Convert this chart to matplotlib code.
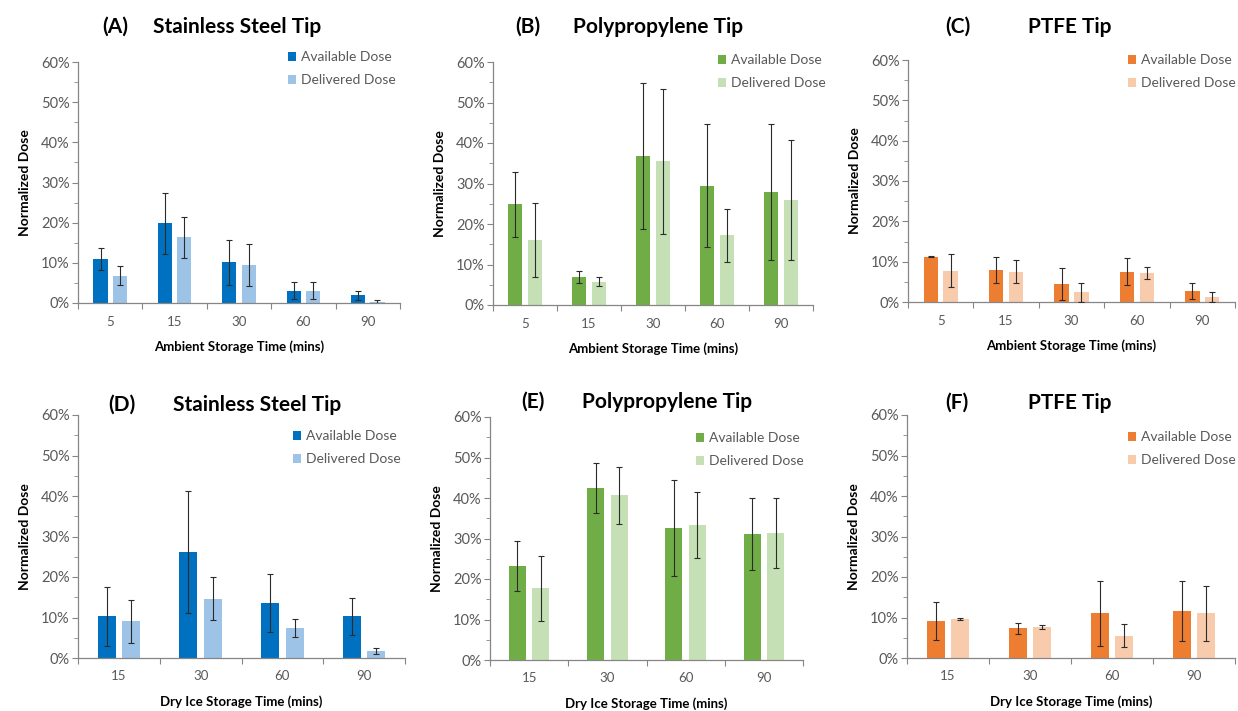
import matplotlib.pyplot as plt
import numpy as np
from matplotlib.ticker import MultipleLocator, PercentFormatter, FixedLocator, NullFormatter

plt.rcParams['font.family'] = ['Lato', 'DejaVu Sans']

# storage times
ambient_times = ['5', '15', '30', '60', '90']
dryice_times = ['15', '30', '60', '90']

# (A) stainless steel, ambient
ss_amb_avail = [10.9, 19.9, 10.1, 3.1, 1.9]
ss_amb_avail_err = [2.8, 7.6, 5.5, 2.1, 1.2]
ss_amb_deliv = [6.8, 16.4, 9.5, 3.1, 0.2]
ss_amb_deliv_err = [2.3, 5.1, 5.2, 2.1, 0.6]

# (B) polypropylene, ambient
pp_amb_avail = [24.9, 7.0, 36.8, 29.5, 28.0]
pp_amb_avail_err = [8.0, 1.5, 18.0, 15.3, 16.8]
pp_amb_deliv = [16.0, 5.8, 35.5, 17.2, 26.0]
pp_amb_deliv_err = [9.2, 1.0, 17.9, 6.5, 14.8]

# (C) PTFE, ambient
pt_amb_avail = [11.2, 7.9, 4.4, 7.5, 2.7]
pt_amb_avail_err = [0.1, 3.3, 4.0, 3.3, 2.0]
pt_amb_deliv = [7.7, 7.5, 2.4, 7.2, 1.2]
pt_amb_deliv_err = [4.1, 2.8, 2.3, 1.5, 1.2]

# (D) stainless steel, dry ice
ss_dry_avail = [10.3, 26.2, 13.6, 10.3]
ss_dry_avail_err = [7.3, 15.1, 7.2, 4.5]
ss_dry_deliv = [9.1, 14.6, 7.4, 1.7]
ss_dry_deliv_err = [5.3, 5.3, 2.3, 0.7]

# (E) polypropylene, dry ice
pp_dry_avail = [23.2, 42.5, 32.6, 31.1]
pp_dry_avail_err = [6.1, 6.2, 11.8, 9.0]
pp_dry_deliv = [17.7, 40.7, 33.4, 31.4]
pp_dry_deliv_err = [8.1, 7.0, 8.2, 8.7]

# (F) PTFE, dry ice
pt_dry_avail = [9.2, 7.3, 11.0, 11.6]
pt_dry_avail_err = [4.7, 1.3, 8.0, 7.4]
pt_dry_deliv = [9.6, 7.7, 5.5, 11.0]
pt_dry_deliv_err = [0.2, 0.5, 2.8, 6.7]

BLUE = ('#0070C0', '#9DC3E6')
GREEN = ('#70AD47', '#C5E0B4')
ORANGE = ('#ED7D31', '#F8CBAD')
GRAY = '#595959'
AXIS = '#868686'

W, H = 1238, 711
fig = plt.figure(figsize=(W / 100, H / 100), dpi=100)


def px_axes(left, top, right, bottom):
    return fig.add_axes([left / W, 1 - bottom / H, (right - left) / W, (bottom - top) / H])


def panel(box, times, avail, avail_err, deliv, deliv_err, colors,
          tag, name, tag_xy, name_x, leg_xy, xlabel):
    ax = px_axes(*box)
    x = np.arange(len(times))
    bw = 0.22
    off = 0.15
    ax.bar(x - off, avail, bw, color=colors[0], label='Available Dose', zorder=2)
    ax.bar(x + off, deliv, bw, color=colors[1], label='Delivered Dose', zorder=2)
    ekw = dict(fmt='none', ecolor='#2b2b2b', elinewidth=0.8, capsize=2.5, capthick=0.8, zorder=3)
    ax.errorbar(x - off, avail, yerr=avail_err, **ekw)
    ax.errorbar(x + off, deliv, yerr=deliv_err, **ekw)

    ax.set_xlim(-0.5, len(times) - 0.5)
    ax.set_ylim(0, 60)
    ax.yaxis.set_major_locator(MultipleLocator(10))
    ax.yaxis.set_minor_locator(MultipleLocator(5))
    ax.yaxis.set_major_formatter(PercentFormatter(decimals=0))

    # group separators as ticks, category names centred between them
    ax.xaxis.set_major_locator(FixedLocator(np.arange(len(times) + 1) - 0.5))
    ax.xaxis.set_major_formatter(NullFormatter())
    ax.xaxis.set_minor_locator(FixedLocator(x))
    ax.set_xticklabels(times, minor=True)
    ax.tick_params(axis='x', which='major', length=4, color=AXIS, direction='out')
    ax.tick_params(axis='x', which='minor', length=0, pad=9, labelsize=9.5, labelcolor=GRAY)
    ax.tick_params(axis='y', which='major', length=4, color=AXIS, labelsize=10.5, labelcolor=GRAY, pad=2)
    ax.tick_params(axis='y', which='minor', length=3, color=AXIS)

    for s in ('top', 'right'):
        ax.spines[s].set_visible(False)
    for s in ('left', 'bottom'):
        ax.spines[s].set_color(AXIS)
        ax.spines[s].set_linewidth(0.9)

    ax.set_ylabel('Normalized Dose', fontsize=10, fontweight='bold', labelpad=7)
    ax.set_xlabel(xlabel, fontsize=9.5, fontweight='bold', labelpad=9)

    fig.text(tag_xy[0] / W, 1 - tag_xy[1] / H, tag, fontsize=15, fontweight='bold',
             ha='center', va='center')
    fig.text(name_x / W, 1 - tag_xy[1] / H, name, fontsize=15, fontweight='bold',
             ha='center', va='center')

    ax.legend(loc='upper left', bbox_to_anchor=(leg_xy[0] / W, 1 - leg_xy[1] / H),
              bbox_transform=fig.transFigure, frameon=False, fontsize=10,
              labelcolor=GRAY, handlelength=0.6, handleheight=0.6, handletextpad=0.35,
              labelspacing=0.8, borderpad=0, borderaxespad=0)
    return ax


amb_label = 'Ambient Storage Time (mins)'
dry_label = 'Dry Ice Storage Time (mins)'

panel((78, 62, 400, 303), ambient_times, ss_amb_avail, ss_amb_avail_err,
      ss_amb_deliv, ss_amb_deliv_err, BLUE, '(A)', 'Stainless Steel Tip',
      (115, 27), 237, (288, 51), amb_label)
panel((493, 62, 813, 305), ambient_times, pp_amb_avail, pp_amb_avail_err,
      pp_amb_deliv, pp_amb_deliv_err, GREEN, '(B)', 'Polypropylene Tip',
      (528, 27), 658, (718, 54), amb_label)
panel((908, 60, 1235, 302), ambient_times, pt_amb_avail, pt_amb_avail_err,
      pt_amb_deliv, pt_amb_deliv_err, ORANGE, '(C)', 'PTFE Tip',
      (958, 27), 1070, (1128, 54), amb_label)
panel((78, 415, 405, 658), dryice_times, ss_dry_avail, ss_dry_avail_err,
      ss_dry_deliv, ss_dry_deliv_err, BLUE, '(D)', 'Stainless Steel Tip',
      (122, 405), 257, (293, 430), dry_label)
panel((490, 417, 803, 660), dryice_times, pp_dry_avail, pp_dry_avail_err,
      pp_dry_deliv, pp_dry_deliv_err, GREEN, '(E)', 'Polypropylene Tip',
      (533, 402), 667, (696, 432), dry_label)
panel((907, 415, 1235, 658), dryice_times, pt_dry_avail, pt_dry_avail_err,
      pt_dry_deliv, pt_dry_deliv_err, ORANGE, '(F)', 'PTFE Tip',
      (957, 403), 1070, (1128, 431), dry_label)

fig.savefig('out.png', dpi=100)
